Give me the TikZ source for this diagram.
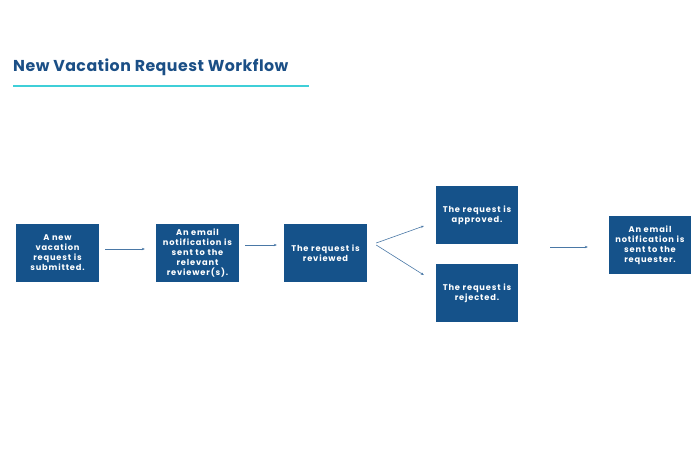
\documentclass[tikz,border=0pt]{standalone}
\usepackage{fontspec}
\setmainfont{Poppins}
\usetikzlibrary{arrows.meta, positioning}
\definecolor{stepfill}{HTML}{15528A}
\definecolor{titleblue}{HTML}{1B4F86}
\definecolor{ruleteal}{HTML}{3FCFD8}
\definecolor{flowline}{HTML}{4A78A6}

\begin{document}
\begin{tikzpicture}[
    x=1pt, y=-1pt,
    every node/.style={font=\bfseries\fontsize{8.3}{10}\selectfont\addfontfeature{LetterSpace=10}},
    stepbox/.style={fill=stepfill, text=white, minimum width=83pt, minimum height=58pt, align=center, inner sep=1pt},
    flow/.style={-{Stealth[length=3pt, width=2.5pt]}, line width=0.6pt, flowline}
]
\useasboundingbox (0,0) rectangle (700,450);

% Title and rule
\node[anchor=base west, inner sep=0pt, text=titleblue, font=\bfseries\fontsize{15.8}{18}\selectfont\addfontfeature{LetterSpace=3}] (title) at (13,71) {New Vacation Request Workflow};
\draw[ruleteal, line width=1.5pt] (13,86) coordinate (r1) -- (309,86) coordinate (r2);

% Steps
\node[stepbox] (submit) at (57.5,253) {A new\\ vacation\\ request is\\ submitted.};
\node[stepbox] (notify) at (197.5,253) {An email\\ notification is\\ sent to the\\ relevant\\ reviewer(s).};
\node[stepbox] (review) at (325.5,253) {The request is\\ reviewed};
\node[stepbox, minimum width=82pt] (approve) at (477,215) {The request is\\ approved.};
\node[stepbox, minimum width=82pt] (reject) at (477,293) {The request is\\ rejected.};
\node[stepbox, minimum width=82pt] (inform) at (650,245) {An email\\ notification is\\ sent to the\\ requester.};

% Connectors
\draw[flow] ([xshift=6pt, yshift=4pt]submit.east) -- ([xshift=-11pt, yshift=4pt]notify.west);
\draw[flow] ([xshift=6pt, yshift=8pt]notify.east) -- ([xshift=-7pt, yshift=8pt]review.west);
\draw[flow] ([xshift=9pt, yshift=10pt]review.east) -- ([xshift=-12pt, yshift=-11pt]approve.west);
\draw[flow] ([xshift=9pt, yshift=8pt]review.east) -- ([xshift=-12pt, yshift=18pt]reject.west);
\coordinate (merge) at (550,247);
\draw[flow] (merge) -- ([xshift=-21pt, yshift=-2pt]inform.west);

\end{tikzpicture}
\end{document}
